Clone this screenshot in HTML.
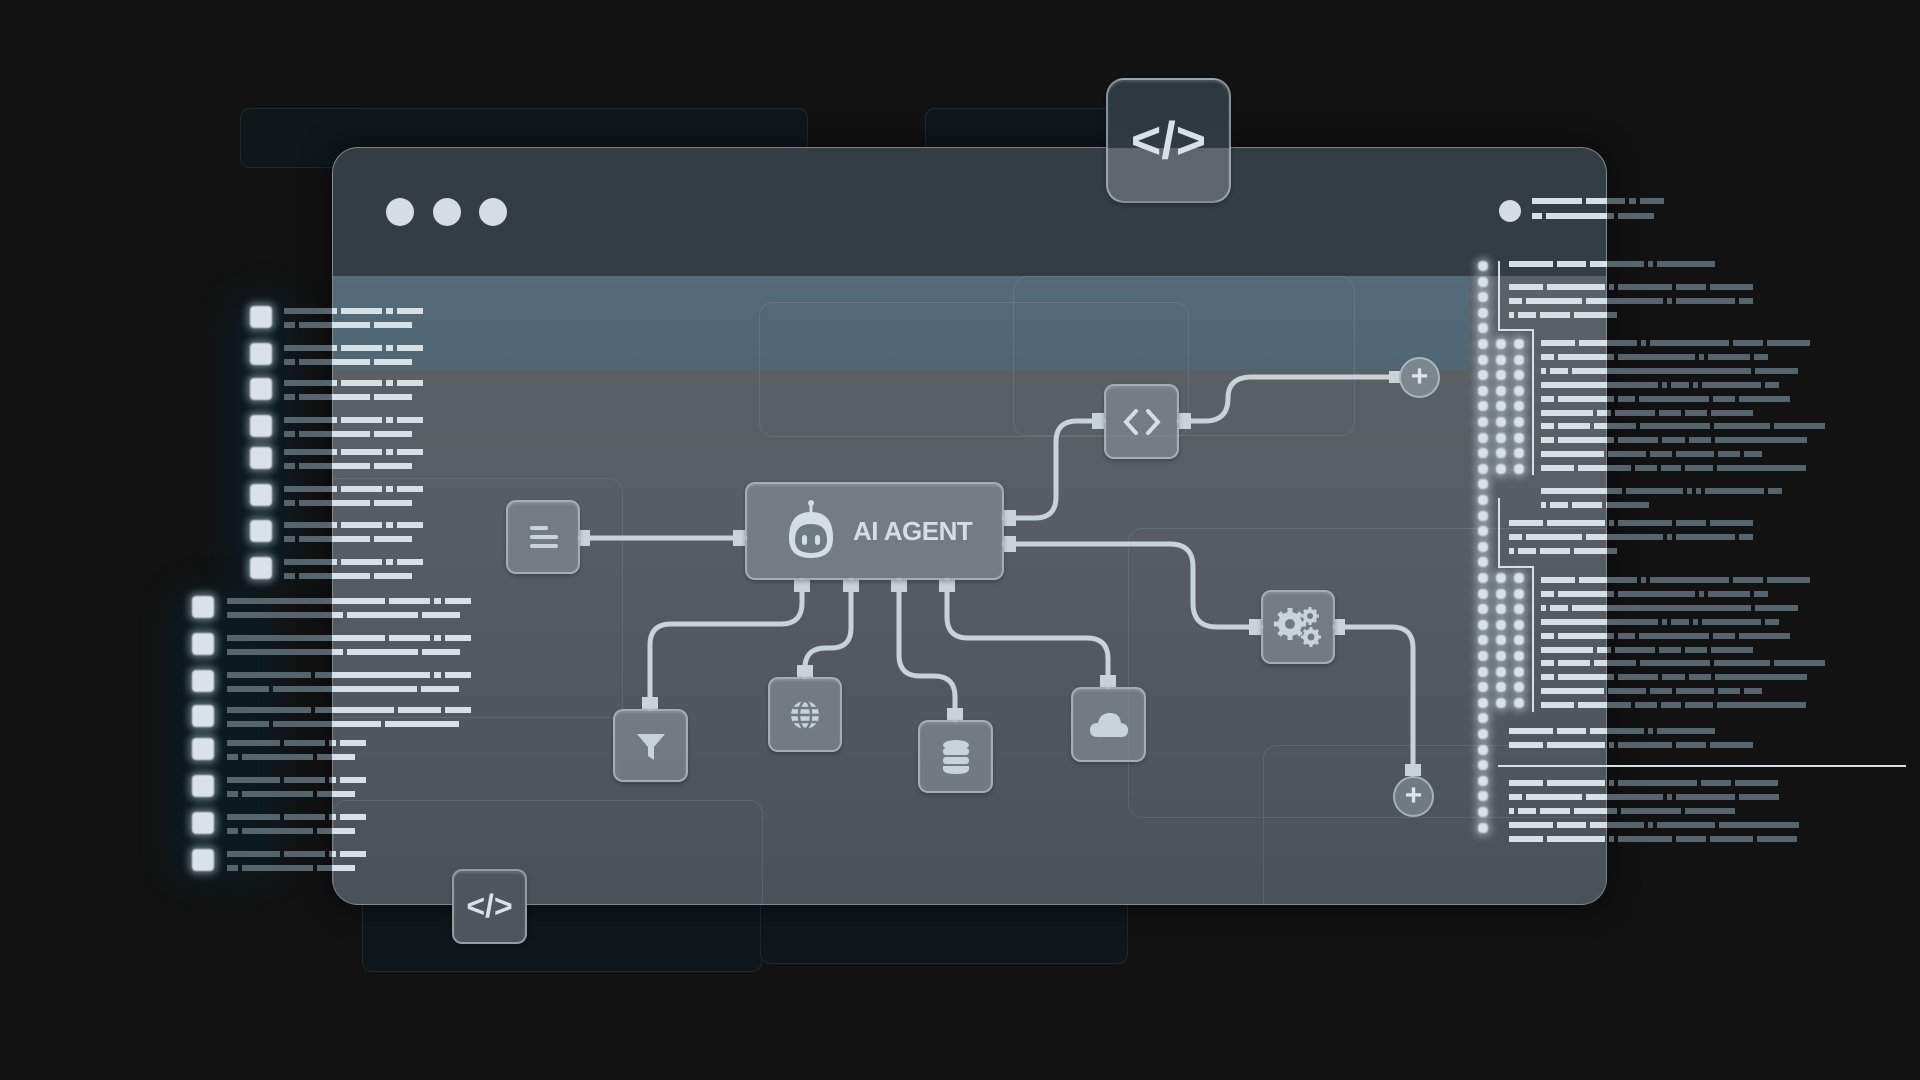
<!DOCTYPE html>
<html><head><meta charset="utf-8">
<style>
*{margin:0;padding:0;box-sizing:border-box}
body{width:1920px;height:1080px;background:#121212;position:relative;overflow:hidden;font-family:"Liberation Sans",sans-serif}
.abs{position:absolute}
#win{left:332px;top:147px;width:1275px;height:758px;border-radius:26px;overflow:hidden;
 background:linear-gradient(180deg,#5d6469 0%,#565e63 50%,#4a5258 100%);
 border:1px solid rgba(200,215,225,.35);box-shadow:0 0 30px rgba(0,0,0,.6)}
#title{left:0;top:0;width:100%;height:128px;background:#323d44}
#strip{left:0;top:128px;width:1136px;height:93px;background:linear-gradient(180deg,#546b79,#516673)}
.dot{width:28px;height:28px;border-radius:50%;background:#d5dde2}
.node{position:absolute;border-radius:10px;background:rgba(125,135,142,.75);border:2px solid rgba(205,215,222,.55);
 box-shadow:inset 0 2px 2px rgba(255,255,255,.15),0 2px 4px rgba(0,0,0,.25);display:flex;align-items:center;justify-content:center;color:#c9d4da}
.sq{position:absolute;background:#d8e2e7;border-radius:4px;box-shadow:0 0 8px 3px rgba(220,235,245,.45);filter:blur(0.7px)}
.bar{position:absolute;height:6px}
.ghost{position:absolute;border:1.5px solid rgba(160,175,185,.18);border-radius:14px}
</style></head><body>

<div class="abs" style="left:240px;top:108px;width:568px;height:60px;border:1px solid #1d2a30;border-radius:10px;background:#0f171b"></div>
<div class="abs" style="left:925px;top:108px;width:200px;height:60px;border:1px solid #1d2a30;border-radius:10px;background:#0f171b"></div>
<div class="abs" style="left:362px;top:880px;width:400px;height:92px;border:1px solid #1d2a30;border-radius:10px;background:#101619"></div>
<div class="abs" style="left:760px;top:880px;width:368px;height:84px;border:1px solid #1d2a30;border-radius:10px;background:#101619"></div>

<div id="win" class="abs">
 <div id="title" class="abs"></div>
 <div id="strip" class="abs"></div>
 <div class="dot abs" style="left:53px;top:50px"></div>
 <div class="dot abs" style="left:100px;top:50px"></div>
 <div class="dot abs" style="left:146px;top:50px"></div>
 <div class="dot abs" style="left:1166px;top:52px;width:22px;height:22px"></div>
 <div class="ghost" style="left:426px;top:154px;width:430px;height:135px"></div>
 <div class="ghost" style="left:680px;top:128px;width:342px;height:160px"></div>
 <div class="ghost" style="left:-10px;top:330px;width:300px;height:240px"></div>
 <div class="ghost" style="left:795px;top:380px;width:520px;height:290px"></div>
 <div class="ghost" style="left:930px;top:597px;width:400px;height:220px"></div>
 <div class="ghost" style="left:0px;top:652px;width:430px;height:220px"></div>
</div>

<div id="bars"></div>

<svg class="abs" style="left:0;top:0" width="1920" height="1080" fill="none" stroke="#c8d3d9" stroke-width="5" stroke-linecap="round">
 <path d="M580 538 H745"/>
 <path d="M1004 518 H1035 Q1056 518 1056 497 V442 Q1056 421 1077 421 H1104"/>
 <path d="M1179 421 H1205 Q1228 421 1228 398 Q1228 377 1252 377 H1399"/>
 <path d="M1004 544 H1170 Q1193 544 1193 567 V603 Q1193 627 1217 627 H1261"/>
 <path d="M1335 627 H1392 Q1413 627 1413 648 V776"/>
 <path d="M802 580 V603 Q802 624 781 624 H671 Q650 624 650 645 V709"/>
 <path d="M851 580 V628 Q851 648 831 648 H826 Q805 648 805 668 V677"/>
 <path d="M899 580 V655 Q899 676 920 676 H934 Q955 676 955 697 V720"/>
 <path d="M947 580 V617 Q947 638 968 638 H1087 Q1108 638 1108 659 V687"/>
 <g fill="#c8d3d9" stroke="none">
  <rect x="733" y="530" width="12" height="16"/><rect x="580" y="530" width="10" height="16"/>
  <rect x="1004" y="510" width="12" height="16"/><rect x="1004" y="536" width="12" height="16"/>
  <rect x="1092" y="413" width="12" height="16"/><rect x="1179" y="413" width="12" height="16"/>
  <rect x="1249" y="619" width="12" height="16"/><rect x="1335" y="619" width="10" height="16"/>
  <rect x="1389" y="371" width="12" height="12"/>
  <rect x="794" y="580" width="16" height="12"/><rect x="843" y="580" width="16" height="12"/>
  <rect x="891" y="580" width="16" height="12"/><rect x="939" y="580" width="16" height="12"/>
  <rect x="642" y="697" width="16" height="12"/><rect x="797" y="665" width="16" height="12"/>
  <rect x="947" y="708" width="16" height="12"/><rect x="1100" y="675" width="16" height="12"/>
  <rect x="1405" y="764" width="16" height="12"/>
 </g>
</svg>

<div class="abs" style="left:1399px;top:357px;width:41px;height:41px;border-radius:50%;background:#7b868d;border:2px solid rgba(200,215,225,.6);color:#dfe6ea;font-size:30px;line-height:35px;text-align:center;font-weight:bold">+</div>
<div class="abs" style="left:1393px;top:776px;width:41px;height:41px;border-radius:50%;background:#6f7a81;border:2px solid rgba(200,215,225,.6);color:#dfe6ea;font-size:30px;line-height:35px;text-align:center;font-weight:bold">+</div>

<div class="node" style="left:506px;top:500px;width:74px;height:74px">
 <svg width="34" height="30"><g stroke="#c9d4da" stroke-width="4" stroke-linecap="round"><path d="M6 6H20M6 15H30M6 24H30"/></g></svg></div>
<div class="node" style="left:745px;top:482px;width:259px;height:98px;justify-content:flex-start;padding-left:36px">
 <svg width="56" height="62" viewBox="0 0 56 62"><line x1="28" y1="2" x2="28" y2="12" stroke="#d5dee3" stroke-width="3"/><circle cx="28" cy="3" r="3" fill="#d5dee3"/>
 <path d="M6 38 Q6 12 28 12 Q50 12 50 38 Q50 58 28 58 Q6 58 6 38Z" fill="#d5dee3"/>
 <path d="M12 40 Q12 24 28 24 Q44 24 44 40 Q44 53 28 53 Q12 53 12 40Z" fill="#6e7a81"/>
 <rect x="19" y="35" width="5" height="10" rx="2.5" fill="#d5dee3"/><rect x="32" y="35" width="5" height="10" rx="2.5" fill="#d5dee3"/></svg>
 <span style="margin-left:14px;font-size:26px;font-weight:bold;color:#d5dee3;letter-spacing:-0.5px">AI AGENT</span></div>
<div class="node" style="left:1104px;top:384px;width:75px;height:75px;font-size:34px">
 <svg width="40" height="30"><path d="M14 4 L4 15 L14 26 M26 4 L36 15 L26 26" stroke="#d5dee3" stroke-width="4" fill="none" stroke-linecap="round"/></svg></div>
<div class="node" style="left:1261px;top:590px;width:74px;height:74px">
 <svg width="50" height="42" viewBox="0 0 50 42"><g fill="#c9d4da"><circle cx="17" cy="18" r="12"/><circle cx="37" cy="10" r="7"/><circle cx="38" cy="31" r="8"/></g>
 <g stroke="#c9d4da" stroke-width="5"><path d="M17 2V34M1 18H33M6 7L28 29M28 7L6 29"/><path d="M37 1V19M28 10H46M31 4L43 16M43 4L31 16" stroke-width="3"/><path d="M38 21V41M28 31H48M31 24L45 38M45 24L31 38" stroke-width="3"/></g>
 <g fill="#6f7a81"><circle cx="17" cy="18" r="5"/><circle cx="37" cy="10" r="3"/><circle cx="38" cy="31" r="3.5"/></g></svg></div>
<div class="node" style="left:613px;top:709px;width:75px;height:73px">
 <svg width="34" height="34"><path d="M3 5H31L20 18V31L14 27V18Z" fill="#c9d4da"/></svg></div>
<div class="node" style="left:768px;top:677px;width:74px;height:75px">
 <svg width="34" height="34"><circle cx="17" cy="17" r="14" fill="#c9d4da"/><g stroke="#6f7a81" stroke-width="2.5" fill="none"><path d="M3 17H31M5 10H29M5 24H29"/><ellipse cx="17" cy="17" rx="6" ry="14"/></g></svg></div>
<div class="node" style="left:918px;top:720px;width:75px;height:73px">
 <svg width="30" height="36"><g fill="#c9d4da"><ellipse cx="15" cy="6" rx="13" ry="5"/><rect x="2" y="9" width="26" height="7" rx="3"/><rect x="2" y="18" width="26" height="7" rx="3"/><path d="M2 27H28V30Q28 35 15 35Q2 35 2 30Z"/></g></svg></div>
<div class="node" style="left:1071px;top:687px;width:75px;height:75px">
 <svg width="40" height="28"><path d="M9 26Q1 26 1 19Q1 12 9 12Q11 2 21 2Q31 2 32 12Q39 13 39 19Q39 26 32 26Z" fill="#c9d4da"/></svg></div>

<div class="node" style="left:1106px;top:78px;width:125px;height:125px;background:linear-gradient(180deg,#2d383f 0%,#2f3a41 56%,#5c666c 56%,#5c666c 100%);border-radius:18px">
 <span style="font-size:52px;font-weight:bold;color:#d8e1e6">&lt;/&gt;</span></div>
<div class="node" style="left:452px;top:869px;width:75px;height:75px;background:#4d565c">
 <span style="font-size:32px;font-weight:bold;color:#d8e1e6">&lt;/&gt;</span></div>

<script>
var B=document.getElementById('bars');
var WL=332,WR=1607,WT=147,WB=905;
function bar(x,y,w,h){h=h||6;
 var a=x,b=x+w;var inY=(y>=WT&&y<=WB);var pts=[a];
 if(inY){if(WL>a&&WL<b)pts.push(WL);if(WR>a&&WR<b)pts.push(WR);}
 pts.push(b);
 for(var i=0;i<pts.length-1;i++){
  var m=(pts[i]+pts[i+1])/2;var inside=inY&&m>WL&&m<WR;
  var d=document.createElement('div');d.className='bar';
  d.style.left=pts[i]+'px';d.style.top=y+'px';d.style.width=(pts[i+1]-pts[i])+'px';d.style.height=h+'px';
  d.style.background=inside?'#d6e0e5':'#56646b';B.appendChild(d);
 }
}
function row(x,y,ws){ws.forEach(function(w){bar(x,y,w);x+=w+4;});}
function sq(x,y,s){var d=document.createElement('div');d.className='sq';d.style.left=x+'px';d.style.top=y+'px';d.style.width=s+'px';d.style.height=s+'px';B.appendChild(d);}
function halo(x,y,w,h){var d=document.createElement('div');d.style.cssText='position:absolute;left:'+x+'px;top:'+y+'px;width:'+w+'px;height:'+h+'px;background:#0b1a20;border-radius:30px;filter:blur(14px)';B.appendChild(d);}
halo(228,295,70,290);halo(170,590,110,290);
var c1=[317,354,389,426,458,495,531,568];
c1.forEach(function(c){sq(250,c-11,22);row(284,c-9,[53,41,7,26]);row(284,c+5,[11,71,38]);});
var c2=[607,644,681,716,749,786,823,860];
var L2=[[[158,41,7,26],[116,71,38]],[[158,41,7,26],[116,71,38]],[[84,115,7,26],[42,144,38]],[[84,79,43,26],[42,108,74]],[[53,41,7,26],[11,71,38]],[[53,41,7,26],[11,71,38]],[[53,41,7,26],[11,71,38]],[[53,41,7,26],[11,71,38]]];
c2.forEach(function(c,i){sq(192,c-11,22);row(227,c-9,L2[i][0]);row(227,c+5,L2[i][1]);});
row(1532,198,[50,39,7,24]);row(1532,213,[10,68,36]);
for(var i=0;i<37;i++){var y=261+i*15.6;sq(1478,y,10);}
for(var i=5;i<14;i++){var y=261+i*15.6;sq(1496,y,10);sq(1514,y,10);}
for(var i=20;i<29;i++){var y=261+i*15.6;sq(1496,y,10);sq(1514,y,10);}
function vl(x,y,h){var d=document.createElement('div');d.style.cssText='position:absolute;left:'+x+'px;top:'+y+'px;width:2px;height:'+h+'px;background:#d6e0e5';B.appendChild(d);}
function hl(x,y,w){var d=document.createElement('div');d.style.cssText='position:absolute;left:'+x+'px;top:'+y+'px;width:'+w+'px;height:2px;background:#d6e0e5';B.appendChild(d);}
vl(1498,261,70);hl(1498,329,35);vl(1532,329,146);
vl(1498,498,70);hl(1498,566,35);vl(1532,566,146);
hl(1498,765,408);
row(1509,261,[44,29,54,5,58]);
function blockA(y){row(1509,y,[34,58,5,54,30,43]);row(1509,y+14,[13,56,77,5,59,14]);row(1509,y+28,[5,18,30,43]);}
function blockB(y){var R=[[34,58,5,79,30,43],[13,56,77,5,42,14],[5,18,179,43],[117,5,18,5,59,14],[13,56,17,70,22,51],[52,14,40,22,22,42],[13,32,42,70,56,51],[13,56,40,23,22,92],[63,38,22,38,22,18],[33,53,22,20,28,89]];
 R.forEach(function(r,i){row(1541,y+i*13.9,r);});}
blockA(284);blockB(340);row(1541,488,[81,57,5,5,59,14]);row(1541,502,[5,18,30,43]);
blockA(520);blockB(577);row(1509,728,[44,29,54,5,58]);row(1509,742,[34,58,5,54,30,43]);
row(1509,780,[34,58,5,79,30,43]);row(1509,794,[13,56,77,5,59,40]);row(1509,808,[5,18,30,43,60,50]);row(1509,822,[44,29,54,5,58,80]);row(1509,836,[34,58,5,54,30,43,40]);
</script>
</body></html>
